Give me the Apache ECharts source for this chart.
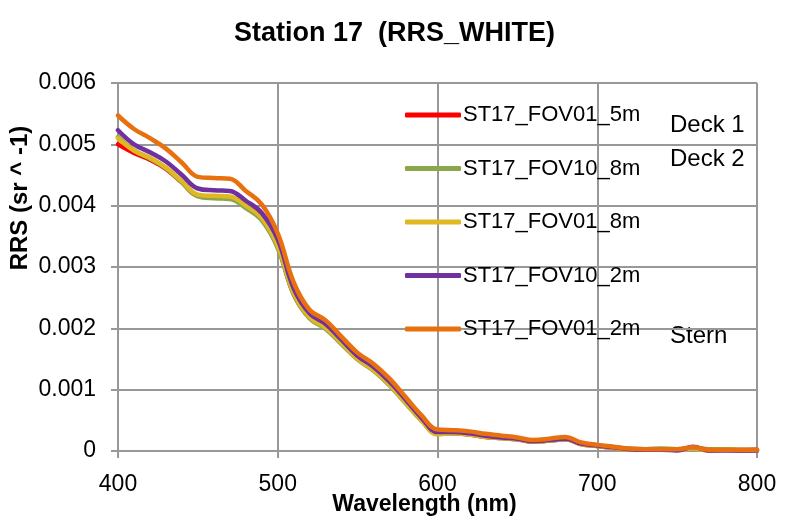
<!DOCTYPE html>
<html>
<head>
<meta charset="utf-8">
<script src="https://cdn.jsdelivr.net/npm/echarts@6/dist/echarts.min.js"></script>
<style>
  html, body { margin: 0; padding: 0; background: #fff; }
  #main { width: 789px; height: 520px; }
</style>
</head>
<body>
<div id="main"></div>
<script>
// wavelengths (nm)
const wavelengths = [400, 410, 420, 430, 440, 450, 460, 470, 480, 490, 500, 510, 520, 530, 540, 550, 560, 570, 580, 590,
  600, 610, 620, 630, 640, 650, 660, 670, 680, 690, 700, 710, 720, 730, 740, 750, 760, 770, 780, 790, 800];

const seriesNames = ['ST17_FOV01_5m', 'ST17_FOV10_8m', 'ST17_FOV01_8m', 'ST17_FOV10_2m', 'ST17_FOV01_2m'];
const seriesColors = ['#ff0000', '#8aa84b', '#e0b821', '#7030a0', '#e8700f'];

const fov01_5m = [0.00500, 0.00486, 0.00475, 0.00460, 0.00438, 0.00416, 0.00414, 0.00413, 0.00398, 0.00378, 0.00333,
  0.00256, 0.00217, 0.00200, 0.00175, 0.00150, 0.00132, 0.00108, 0.00079, 0.00050, 0.00028, 0.00029, 0.00027, 0.00023,
  0.00021, 0.00019, 0.00015, 0.00017, 0.00019, 0.00011, 0.00008, 0.00005, 0.00003, 0.00002, 0.00002, 0.00002, 0.00005,
  0.00001, 0.00002, 0.00001, 0.00002];
const fov10_8m = [0.00512, 0.00490, 0.00477, 0.00461, 0.00438, 0.00415, 0.00412, 0.00411, 0.00396, 0.00376, 0.00331,
  0.00255, 0.00216, 0.00199, 0.00174, 0.00149, 0.00131, 0.00107, 0.00078, 0.00050, 0.00028, 0.00029, 0.00027, 0.00024,
  0.00021, 0.00019, 0.00016, 0.00017, 0.00019, 0.00012, 0.00009, 0.00006, 0.00004, 0.00003, 0.00004, 0.00003, 0.00005,
  0.00003, 0.00003, 0.00002, 0.00002];
const fov01_8m = [0.00510, 0.00490, 0.00478, 0.00462, 0.00440, 0.00418, 0.00416, 0.00415, 0.00400, 0.00380, 0.00335,
  0.00258, 0.00218, 0.00201, 0.00176, 0.00150, 0.00132, 0.00108, 0.00079, 0.00050, 0.00027, 0.00029, 0.00027, 0.00023,
  0.00021, 0.00019, 0.00015, 0.00017, 0.00019, 0.00011, 0.00008, 0.00005, 0.00002, 0.00002, 0.00002, 0.00002, 0.00004,
  0.00001, 0.00002, 0.00001, 0.00001];
const fov10_2m = [0.00523, 0.00500, 0.00487, 0.00472, 0.00450, 0.00428, 0.00425, 0.00424, 0.00408, 0.00388, 0.00345,
  0.00265, 0.00224, 0.00207, 0.00181, 0.00155, 0.00137, 0.00113, 0.00084, 0.00054, 0.00031, 0.00031, 0.00029, 0.00025,
  0.00022, 0.00020, 0.00016, 0.00018, 0.00020, 0.00012, 0.00009, 0.00006, 0.00003, 0.00002, 0.00002, 0.00001, 0.00007,
  0.00001, 0.00001, 0.00001, 0.00001];
const fov01_2m = [0.00547, 0.00525, 0.00510, 0.00493, 0.00470, 0.00447, 0.00445, 0.00444, 0.00424, 0.00402, 0.00355,
  0.00275, 0.00230, 0.00213, 0.00186, 0.00160, 0.00142, 0.00118, 0.00088, 0.00058, 0.00035, 0.00034, 0.00032, 0.00028,
  0.00025, 0.00022, 0.00018, 0.00020, 0.00023, 0.00014, 0.00010, 0.00007, 0.00004, 0.00003, 0.00003, 0.00003, 0.00006,
  0.00002, 0.00002, 0.00002, 0.00002];

const allValues = [fov01_5m, fov10_8m, fov01_8m, fov10_2m, fov01_2m];

const xTicks = [400, 500, 600, 700, 800];
const yTicks = [0, 0.001, 0.002, 0.003, 0.004, 0.005, 0.006];

const font = 'Liberation Sans';
const gridColor = '#989898';

let chart = echarts.init(document.getElementById('main'));

let series = seriesNames.map((name, i) => ({
  name: name,
  type: 'line',
  data: wavelengths.map((w, k) => [w, allValues[i][k]]),
  smooth: 0.4,
  showSymbol: false,
  lineStyle: { width: 4.5, color: seriesColors[i], cap: 'round' },
  itemStyle: { color: seriesColors[i] },
  z: 2 + i
}));

let option = {
  animation: false,
  backgroundColor: '#fff',
  title: {
    text: 'Station 17  (RRS_WHITE)',
    left: 'center',
    top: 15,
    textStyle: { fontFamily: font, fontSize: 27, fontWeight: 'bold', color: '#000' }
  },
  grid: { left: 118, right: 32, top: 83, bottom: 69, outerBoundsMode: 'none', containLabel: false },
  legend: {
    orient: 'vertical',
    left: 400,
    top: 99,
    itemGap: 31.5,
    itemWidth: 56,
    itemHeight: 5,
    icon: 'roundRect',
    data: seriesNames,
    textStyle: { fontFamily: font, fontSize: 22, color: '#000', padding: [0, 0, 0, -3] }
  },
  xAxis: {
    type: 'value',
    min: xTicks[0],
    max: xTicks[xTicks.length - 1],
    interval: 100,
    name: 'Wavelength (nm)',
    nameLocation: 'middle',
    nameGap: 42,
    nameMoveOverlap: false,
    nameTextStyle: { fontFamily: font, fontSize: 23, fontWeight: 'bold', color: '#000', padding: [0, 26, 0, 0] },
    axisLine: { lineStyle: { color: gridColor, width: 2 } },
    axisTick: { show: true, length: 7, lineStyle: { color: gridColor, width: 2 } },
    axisLabel: { fontFamily: font, fontSize: 23, color: '#000', margin: 22 },
    splitLine: { show: true, lineStyle: { color: gridColor, width: 2 } }
  },
  yAxis: {
    type: 'value',
    min: yTicks[0],
    max: yTicks[yTicks.length - 1],
    interval: 0.001,
    name: 'RRS (sr ^ -1)',
    nameLocation: 'middle',
    nameGap: 86,
    nameMoveOverlap: false,
    nameTextStyle: { fontFamily: font, fontSize: 24, fontWeight: 'bold', color: '#000', padding: [0, 0, 0, 138] },
    axisLine: { show: true, lineStyle: { color: gridColor, width: 2 } },
    axisTick: { show: true, length: 7, lineStyle: { color: gridColor, width: 2 } },
    axisLabel: {
      fontFamily: font, fontSize: 23, color: '#000', margin: 22,
      formatter: v => v === 0 ? '0' : v.toFixed(3)
    },
    splitLine: { show: true, lineStyle: { color: gridColor, width: 2 } }
  },
  graphic: [
    { type: 'text', left: 670, top: 113, style: { text: 'Deck 1', font: '24px "Liberation Sans"', fill: '#000' } },
    { type: 'text', left: 670, top: 147, style: { text: 'Deck 2', font: '24px "Liberation Sans"', fill: '#000' } },
    { type: 'text', left: 670, top: 324, style: { text: 'Stern', font: '24px "Liberation Sans"', fill: '#000' } }
  ],
  series: series
};

chart.setOption(option);
</script>
</body>
</html>
